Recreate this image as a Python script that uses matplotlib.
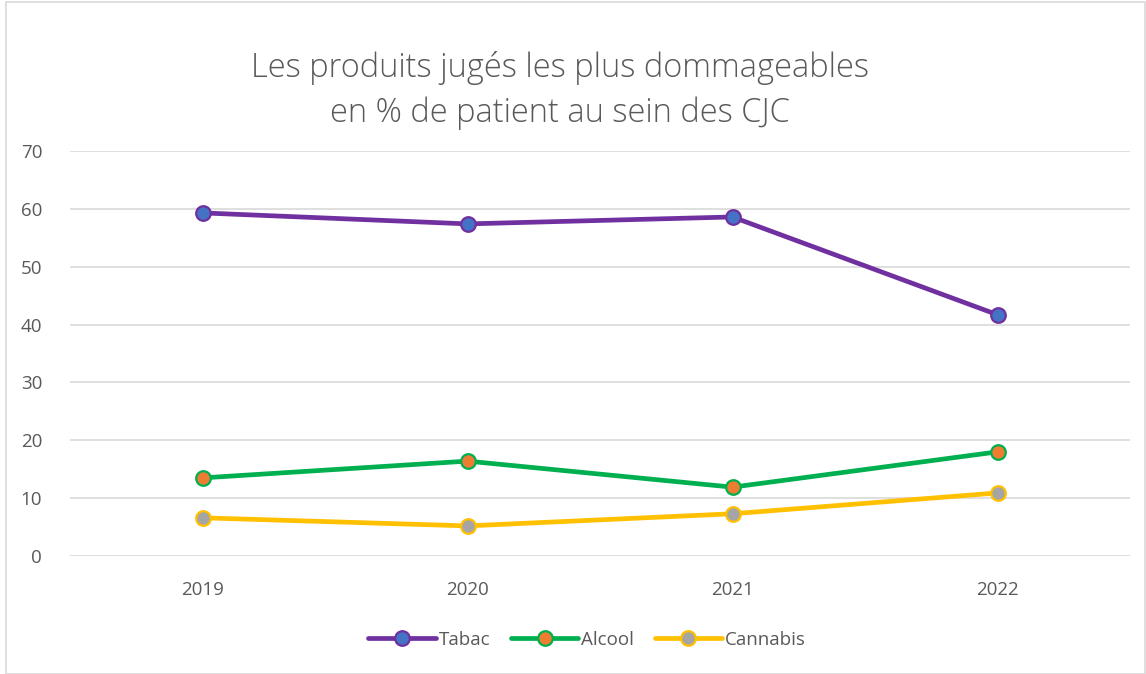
import matplotlib
matplotlib.use("Agg")
import matplotlib.pyplot as plt
from matplotlib.patches import Rectangle

years = ["2019", "2020", "2021", "2022"]
tabac = [59.3, 57.4, 58.6, 41.7]
alcool = [13.5, 16.4, 11.9, 18.0]
cannabis = [6.6, 5.2, 7.3, 10.9]

series = [
    ("Tabac", tabac, "#7030A0", "#4472C4"),
    ("Alcool", alcool, "#00B050", "#ED7D31"),
    ("Cannabis", cannabis, "#FFC000", "#A5A5A5"),
]

plt.rcParams['font.family'] = ['Open Sans', 'DejaVu Sans']
fig = plt.figure(figsize=(11.46, 6.74), dpi=100)
ax = fig.add_axes([70/1146, 1-556/674, 1060/1146, 405/674])

x = list(range(len(years)))
for name, vals, lc, fc in series:
    ax.plot(x, vals, color=lc, lw=3.4, marker='o', markersize=10.5,
            markerfacecolor=fc, markeredgecolor=lc, markeredgewidth=1.6,
            label=name, solid_capstyle='round', zorder=3)

ax.set_xlim(-0.5, 3.5)
ax.set_ylim(0, 70)
ax.set_yticks(range(0, 71, 10))
ax.set_xticks(x)
ax.set_xticklabels(years)
ax.grid(axis='y', color='#D9D9D9', lw=1.2)
ax.set_axisbelow(True)
for s in ax.spines.values():
    s.set_visible(False)
ax.tick_params(length=0, labelsize=13.5, colors='#595959', pad=20)
ax.tick_params(axis='x', pad=18)

fig.text(560/1146, 1-68/674, "Les produits jugés les plus dommageables", ha='center', va='center',
         fontsize=23.5, color='#595959', fontweight='light')
fig.text(560/1146, 1-113/674, "en % de patient au sein des CJC", ha='center', va='center',
         fontsize=23.5, color='#595959', fontweight='light')

leg = fig.legend(loc='center', bbox_to_anchor=(587/1146, 1-640/674), ncol=3, frameon=False,
                 fontsize=13.5, handlelength=3.6, handletextpad=0.15, columnspacing=1.1)
for t in leg.get_texts():
    t.set_color('#595959')

fig.patches.append(Rectangle((6/1146, 0), 1139/1146, 672/674, transform=fig.transFigure,
                             fill=False, edgecolor='#D9D9D9', lw=1.2))

fig.savefig("out.png", dpi=100)
